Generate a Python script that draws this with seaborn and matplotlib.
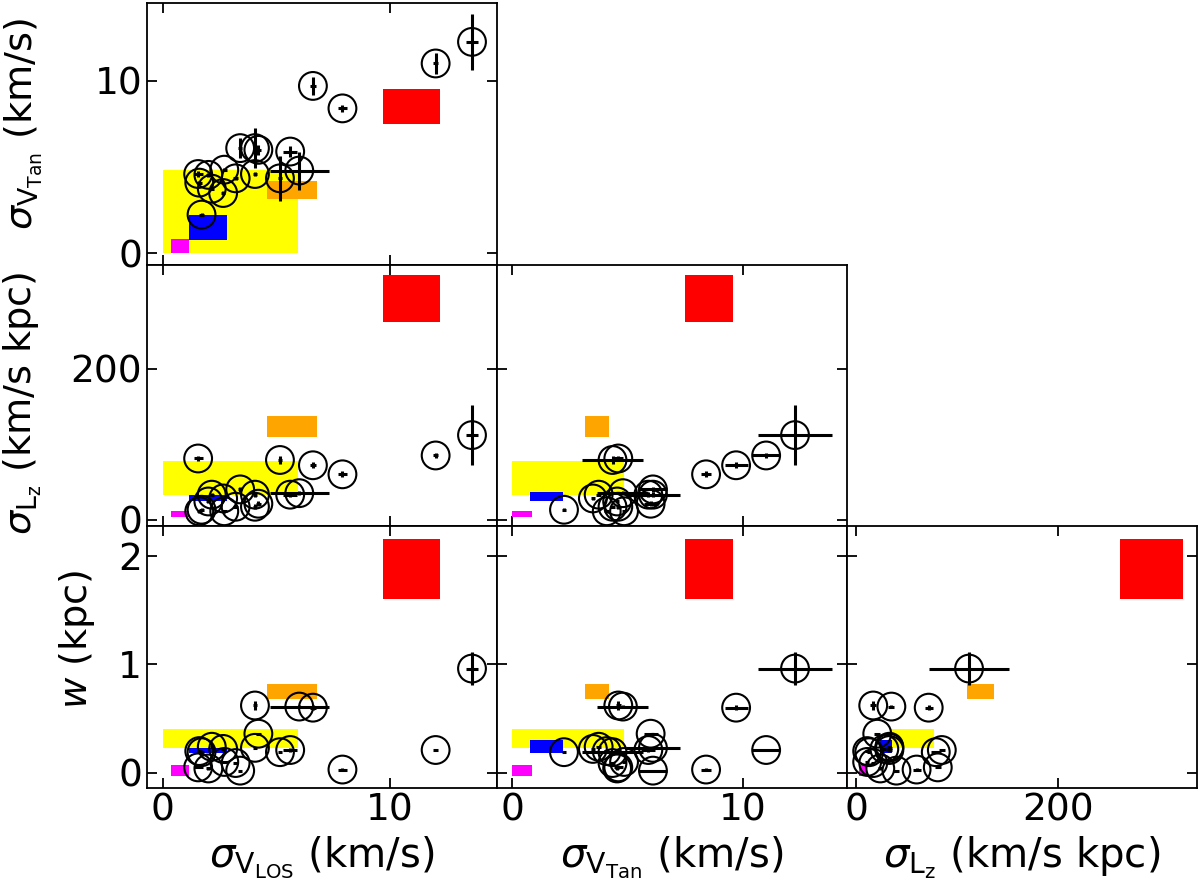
"""
Corner plot: stream velocity dispersions, angular-momentum spread and width,
observed streams (open circles) vs model ranges (coloured boxes)
"""
import numpy as np
import pandas as pd
import matplotlib
matplotlib.use('Agg')
import matplotlib.pyplot as plt
import seaborn as sns

# ── Observed streams ─────────────────────────────────────────
vlos   = [13.6, 12.0, 6.6, 7.9, 1.55, 5.15, 6.0, 4.05, 5.6, 4.2, 4.05, 3.4, 3.2, 2.7, 2.0, 2.15, 1.7, 1.6, 2.65]
vlos_e = [0.25, 0.1, 0.15, 0.2, 0.2, 0.1, 1.3, 0.1, 0.3, 0.1, 0.1, 0.1, 0.1, 0.1, 0.1, 0.1, 0.1, 0.1, 0.1]
vtan   = [12.25, 11.0, 9.7, 8.4, 4.6, 4.35, 4.8, 4.6, 5.9, 6.0, 6.1, 6.1, 4.35, 4.85, 4.55, 3.75, 2.25, 4.1, 3.5]
vtan_e = [1.6, 0.6, 0.5, 0.2, 0.2, 1.3, 1.1, 0.1, 0.3, 0.3, 1.15, 0.6, 0.1, 0.1, 0.1, 0.1, 0.1, 0.1, 0.1]
lz     = [112, 85, 72, 60, 81, 79, 35, 17, 33, 21, 33, 40, 17, 11, 24, 33, 13, 11, 28]
lz_e   = [40, 3, 4, 4, 3, 5, 3, 3, 3, 3, 3, 3, 2, 2, 2, 2, 2, 2, 2]
width  = [0.96, 0.21, 0.60, 0.03, 0.05, 0.19, 0.61, 0.62, 0.21, 0.36, 0.23, 0.02, 0.09, 0.10, 0.04, 0.24, 0.19, 0.20, 0.22]
width_e = [0.15, 0.01, 0.02, 0.01, 0.01, 0.01, 0.01, 0.04, 0.02, 0.01, 0.01, 0.01, 0.01, 0.01, 0.01, 0.01, 0.01, 0.01, 0.01]

# ── Model ranges (boxes) ─────────────────────────────────────
box_colors = ['yellow', 'orange', 'red', 'blue', 'magenta']
vlos_lo = [0.0, 4.6, 9.7, 1.15, 0.35]
vlos_hi = [5.95, 6.8, 12.2, 2.8, 1.15]
vtan_lo = [0.0, 3.15, 7.5, 0.8, 0.0]
vtan_hi = [4.85, 4.2, 9.55, 2.2, 0.85]
lz_lo = [33, 110, 262, 24, 3]
lz_hi = [77, 137, 324, 36, 11]
w_lo = [0.23, 0.68, 1.6, 0.18, -0.03]
w_hi = [0.40, 0.82, 2.15, 0.30, 0.07]

df = pd.DataFrame({'vlos': vlos, 'vlos_e': vlos_e, 'vtan': vtan, 'vtan_e': vtan_e,
                   'lz': lz, 'lz_e': lz_e, 'w': width, 'w_e': width_e})
boxes = pd.DataFrame({'color': box_colors,
                      'vlos_lo': vlos_lo, 'vlos_hi': vlos_hi,
                      'vtan_lo': vtan_lo, 'vtan_hi': vtan_hi,
                      'lz_lo': lz_lo, 'lz_hi': lz_hi,
                      'w_lo': w_lo, 'w_hi': w_hi})

labels = {'vlos': r'$\sigma_{\mathrm{V}_{\mathrm{LOS}}}$ (km/s)',
          'vtan': r'$\sigma_{\mathrm{V}_{\mathrm{Tan}}}$ (km/s)',
          'lz': r'$\sigma_{\mathrm{L}_{\mathrm{z}}}$ (km/s kpc)',
          'w': r'$w$ (kpc)'}
limits = {'vlos': (-0.7, 14.7), 'vtan': (-0.65, 14.5), 'lz': (-9, 338), 'w': (-0.14, 2.27)}
ticks = {'vlos': [0, 10], 'vtan': [0, 10], 'lz': [0, 200], 'w': [0, 1, 2]}

col_vars = ['vlos', 'vtan', 'lz']
row_vars = ['vtan', 'lz', 'w']
# where each row's y label sits (axes fraction: right edge, centre)
ylabel_x = [-0.29, -0.295, -0.143]
ylabel_y = [0.54, 0.47, 0.57]

sns.set_style('ticks')
plt.rcParams['font.family'] = ['DejaVu Sans']
plt.rcParams['mathtext.fontset'] = 'dejavusans'
for key in ['text.color', 'axes.labelcolor', 'xtick.color', 'ytick.color', 'axes.edgecolor']:
    plt.rcParams[key] = 'black'

fig, axes = plt.subplots(3, 3, figsize=(12, 8.9))
fig.subplots_adjust(left=0.1225, right=0.9975, top=0.9966, bottom=0.1146,
                    wspace=0, hspace=0)

for i, yv in enumerate(row_vars):
    for j, xv in enumerate(col_vars):
        ax = axes[i, j]
        if j > i:
            ax.set_visible(False)
            continue

        # model boxes; in the first column the yellow box sits over the blue one
        for _, b in boxes.iterrows():
            z = 1
            if b['color'] == 'blue' and j == 0 and i > 0:
                z = 0.5
            ax.fill_between([b[xv + '_lo'], b[xv + '_hi']], b[yv + '_lo'], b[yv + '_hi'],
                            color=b['color'], lw=0, zorder=z)

        ax.errorbar(df[xv], df[yv], xerr=df[xv + '_e'], yerr=df[yv + '_e'],
                    fmt='none', ecolor='black', elinewidth=2.2, capsize=0, zorder=3)
        sns.scatterplot(data=df, x=xv, y=yv, ax=ax, s=400, marker='o',
                        facecolor='none', edgecolor='black', linewidth=1.5,
                        zorder=4, legend=False)

        ax.set_xlim(limits[xv])
        ax.set_ylim(limits[yv])
        ax.set_xticks(ticks[xv])
        ax.set_yticks(ticks[yv])
        ax.tick_params(direction='in', top=True, right=True, length=7, width=1.3,
                       labelsize=27, labelleft=(j == 0), labelbottom=(i == 2))
        for s in ax.spines.values():
            s.set_linewidth(1.3)
        ax.set_xlabel(labels[xv] if i == 2 else '', fontsize=29)
        if j == 0:
            ax.set_ylabel(labels[yv], fontsize=27.5)
            ax.yaxis.set_label_coords(ylabel_x[i], ylabel_y[i])
        else:
            ax.set_ylabel('')

plt.savefig('out.png', dpi=100)
